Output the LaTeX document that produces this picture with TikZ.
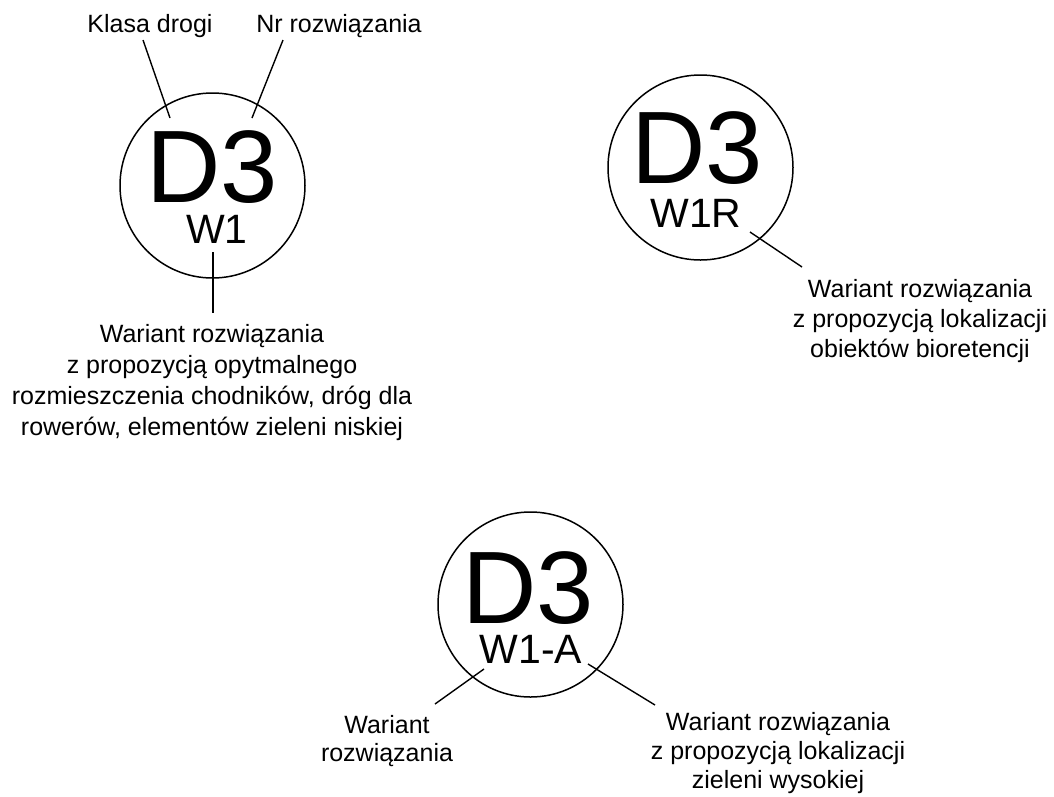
\documentclass[tikz,border=0pt]{standalone}
\usepackage{fontspec}
\setmainfont{Liberation Sans}
\begin{document}
\begin{tikzpicture}[x=1pt,y=-1pt,
  ring/.style={circle,draw,line width=1.5pt,minimum size=185pt,inner sep=0pt},
  big/.style={anchor=base,inner sep=0pt,text height=74pt,text depth=0pt,font=\fontsize{103}{103}\selectfont},
  sub/.style={anchor=base,inner sep=0pt,text height=29pt,text depth=0pt,font=\fontsize{41}{41}\selectfont},
  lbl/.style={anchor=north,inner sep=0pt,align=center,font=\fontsize{25}{30}\selectfont},
  lead/.style={line width=1.4pt}]
\useasboundingbox (0,0) rectangle (1054,796);
% circle 1
\node[ring] (c1) at (212.5,185.5) {};
\node[big] (d1) at (212,202) {D3};
\node[sub] (w1) at (217,243) {W1};
\node[anchor=base,inner sep=0pt,font=\fontsize{25}{30}\selectfont] (klasa) at (150,32) {Klasa drogi};
\node[anchor=base,inner sep=0pt,font=\fontsize{25}{30}\selectfont] (nr) at (339,32) {Nr rozwiązania};
\node[lbl,font=\fontsize{25}{31}\selectfont] (t1) at (212,324) {Wariant rozwiązania\\z propozycją opytmalnego\\rozmieszczenia chodników, dróg dla\\rowerów, elementów zieleni niskiej};
\coordinate (k1) at (143,40); \coordinate (k2) at (170,118);
\coordinate (n1) at (283,40); \coordinate (n2) at (252,118);
\coordinate (v1) at (213,252); \coordinate (v2) at (213,313);
\draw[lead] (k1) -- (k2);
\draw[lead] (n1) -- (n2);
\draw[lead] (v1) -- (v2);
% circle 2
\node[ring] (c2) at (700.5,167.5) {};
\node[big] (d2) at (697,183) {D3};
\node[sub] (w2) at (696,227) {W1R};
\node[lbl] (t2) at (920,279) {Wariant rozwiązania\\z propozycją lokalizacji\\obiektów bioretencji};
\coordinate (r1) at (750,232); \coordinate (r2) at (802,267);
\draw[lead] (r1) -- (r2);
% circle 3
\node[ring] (c3) at (530.5,604.5) {};
\node[big] (d3) at (528,623) {D3};
\node[sub] (w3) at (531,663) {W1-A};
\node[lbl,font=\fontsize{25}{28}\selectfont] (t3) at (387,715) {Wariant\\rozwiązania};
\node[lbl,font=\fontsize{25}{29}\selectfont] (t4) at (778,712) {Wariant rozwiązania\\z propozycją lokalizacji\\zieleni wysokiej};
\coordinate (a1) at (484,669); \coordinate (a2) at (435,704);
\coordinate (b1) at (588,664); \coordinate (b2) at (655,705);
\draw[lead] (a1) -- (a2);
\draw[lead] (b1) -- (b2);
\end{tikzpicture}
\end{document}
